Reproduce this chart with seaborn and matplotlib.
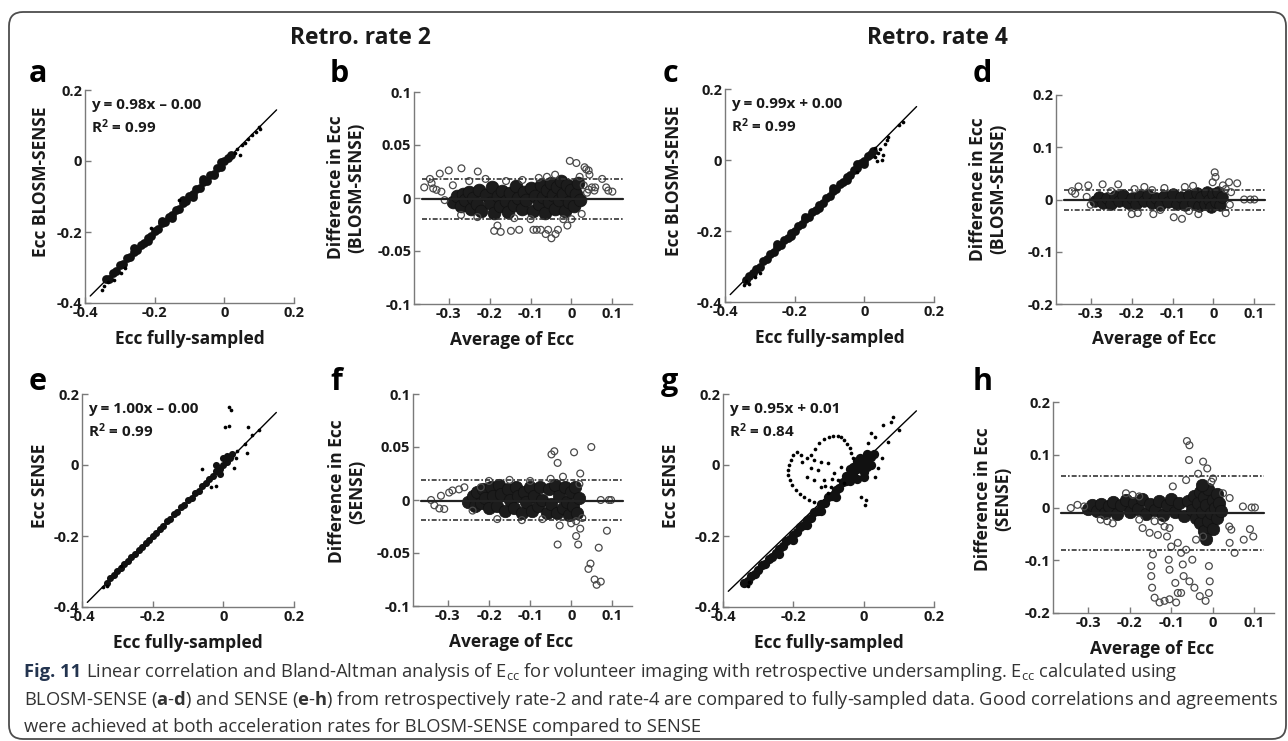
import matplotlib
matplotlib.use("Agg")
import matplotlib.pyplot as plt
import matplotlib.transforms as mtransforms
from matplotlib import font_manager
from matplotlib.patches import FancyBboxPatch
import seaborn as sns
import pandas as pd

# ---------------- values ----------------
# correlation panels: dense band points and loose points (x = fully-sampled, y = undersampled)
a_dense = [(-0.34, -0.333), (-0.33, -0.331), (-0.32, -0.315), (-0.31, -0.309), (-0.30, -0.294),
           (-0.29, -0.290), (-0.28, -0.274), (-0.27, -0.270), (-0.26, -0.255), (-0.25, -0.251),
           (-0.24, -0.236), (-0.23, -0.231), (-0.22, -0.216), (-0.21, -0.212), (-0.20, -0.196),
           (-0.19, -0.192), (-0.18, -0.176), (-0.17, -0.173), (-0.16, -0.157), (-0.15, -0.153),
           (-0.14, -0.137), (-0.13, -0.134), (-0.12, -0.118), (-0.11, -0.114), (-0.10, -0.098),
           (-0.09, -0.094), (-0.08, -0.078), (-0.07, -0.075), (-0.06, -0.059), (-0.05, -0.055),
           (-0.04, -0.039), (-0.03, -0.036), (-0.02, -0.020), (-0.01, -0.016), (0.00, -0.001),
           (0.01, 0.009), (0.02, 0.018), (-0.26, -0.246), (-0.22, -0.225), (-0.18, -0.168),
           (-0.15, -0.160), (-0.12, -0.110), (-0.09, -0.100), (-0.06, -0.050), (-0.03, -0.040),
           (-0.01, -0.004)]
a_loose = [(-0.35, -0.362), (-0.345, -0.352), (-0.333, -0.342), (-0.318, -0.334), (-0.296, -0.316),
           (-0.285, -0.300), (0.03, 0.022), (0.035, 0.033), (0.045, 0.018), (0.05, 0.045),
           (0.06, 0.052), (0.068, 0.062), (0.08, 0.074), (0.09, 0.082), (0.10, 0.096),
           (0.103, 0.09), (-0.13, -0.11), (-0.21, -0.19)]

c_dense = [(-0.34, -0.338), (-0.33, -0.326), (-0.32, -0.318), (-0.31, -0.306), (-0.30, -0.300),
           (-0.29, -0.285), (-0.28, -0.279), (-0.27, -0.265), (-0.26, -0.259), (-0.25, -0.246),
           (-0.24, -0.240), (-0.23, -0.225), (-0.22, -0.220), (-0.21, -0.206), (-0.20, -0.201),
           (-0.19, -0.186), (-0.18, -0.181), (-0.17, -0.166), (-0.16, -0.161), (-0.15, -0.146),
           (-0.14, -0.141), (-0.13, -0.127), (-0.12, -0.121), (-0.11, -0.107), (-0.10, -0.101),
           (-0.09, -0.087), (-0.08, -0.082), (-0.07, -0.067), (-0.06, -0.062), (-0.05, -0.047),
           (-0.04, -0.042), (-0.03, -0.027), (-0.02, -0.022), (-0.01, -0.008), (0.00, -0.002),
           (0.01, 0.012), (0.02, 0.018), (0.025, 0.026), (-0.25, -0.238), (-0.21, -0.215),
           (-0.17, -0.160), (-0.13, -0.136), (-0.09, -0.080), (-0.05, -0.056), (-0.02, -0.012),
           (0.00, -0.010)]
c_loose = [(-0.345, -0.352), (-0.34, -0.34), (-0.332, -0.348), (-0.315, -0.33), (-0.30, -0.318),
           (0.03, 0.008), (0.035, -0.004), (0.04, 0.02), (0.045, 0.03), (0.05, 0.0),
           (0.055, 0.015), (0.06, 0.045), (0.065, 0.055), (0.068, 0.064), (0.10, 0.10),
           (0.11, 0.106), (0.03, 0.035), (-0.02, -0.035)]

e_dense = [(-0.33, -0.331), (-0.32, -0.318), (-0.31, -0.311), (-0.30, -0.299), (-0.29, -0.291),
           (-0.28, -0.279), (-0.27, -0.271), (-0.26, -0.259), (-0.25, -0.252), (-0.24, -0.239),
           (-0.23, -0.232), (-0.22, -0.219), (-0.21, -0.212), (-0.20, -0.199), (-0.19, -0.191),
           (-0.18, -0.179), (-0.17, -0.172), (-0.16, -0.159), (-0.15, -0.152), (-0.14, -0.139),
           (-0.13, -0.131), (-0.12, -0.119), (-0.11, -0.112), (-0.10, -0.099), (-0.09, -0.092),
           (-0.08, -0.079), (-0.07, -0.072), (-0.06, -0.059), (-0.05, -0.051), (-0.04, -0.039),
           (-0.03, -0.031), (-0.02, -0.018), (-0.01, -0.011), (0.00, 0.001), (0.01, 0.008),
           (0.02, 0.021), (0.025, 0.03), (0.00, 0.02), (0.01, 0.025), (-0.02, 0.0),
           (-0.01, -0.025)]
e_loose = [(0.015, 0.163), (0.022, 0.155), (0.005, 0.107), (0.015, 0.11), (0.07, 0.107),
           (0.068, 0.034), (0.03, -0.008), (-0.035, -0.062), (-0.02, -0.06), (0.06, 0.06),
           (0.10, 0.10), (0.08, 0.085), (0.04, 0.04), (0.035, 0.02), (-0.06, -0.01),
           (-0.33, -0.34), (-0.34, -0.345), (-0.29, -0.285)]

g_dense = [(-0.34, -0.333), (-0.33, -0.326), (-0.32, -0.312), (-0.31, -0.307), (-0.30, -0.296),
           (-0.29, -0.283), (-0.28, -0.279), (-0.27, -0.264), (-0.26, -0.258), (-0.25, -0.247),
           (-0.24, -0.236), (-0.23, -0.228), (-0.22, -0.214), (-0.21, -0.209), (-0.20, -0.196),
           (-0.19, -0.190), (-0.18, -0.175), (-0.17, -0.170), (-0.16, -0.155), (-0.15, -0.150),
           (-0.14, -0.132), (-0.13, -0.129), (-0.12, -0.111), (-0.11, -0.108), (-0.10, -0.091),
           (-0.09, -0.087), (-0.08, -0.070), (-0.07, -0.066), (-0.06, -0.049), (-0.05, -0.045),
           (-0.04, -0.028), (-0.03, -0.025), (-0.02, -0.010), (-0.01, -0.004), (0.00, 0.008),
           (0.01, 0.015), (0.02, 0.022), (-0.03, -0.005), (-0.02, 0.012), (-0.01, 0.02),
           (0.00, -0.02), (0.01, -0.005), (-0.04, -0.045), (-0.24, -0.250), (-0.20, -0.21),
           (-0.16, -0.17), (-0.12, -0.13), (-0.08, -0.09), (-0.05, -0.03), (0.02, 0.0),
           (0.03, 0.03), (-0.02, -0.04), (0.0, -0.035), (-0.04, -0.01), (0.01, 0.03)]
g_loose = [(-0.189, 0.038), (-0.200, 0.028), (-0.208, 0.014), (-0.213, 0.0), (-0.215, -0.014),
           (-0.214, -0.028), (-0.21, -0.042), (-0.203, -0.056), (-0.193, -0.07), (-0.182, -0.082),
           (-0.169, -0.091), (-0.155, -0.098), (-0.141, -0.103), (-0.15, 0.028), (-0.138, 0.045),
           (-0.126, 0.061), (-0.112, 0.072), (-0.098, 0.08), (-0.086, 0.083), (-0.074, 0.082),
           (-0.064, 0.078), (-0.055, 0.07), (-0.047, 0.058), (-0.04, 0.047), (-0.035, 0.033),
           (-0.031, 0.019), (-0.179, 0.028), (-0.16, 0.019), (-0.174, 0.009), (-0.141, 0.014),
           (-0.122, 0.009), (-0.102, 0.005), (-0.15, -0.009), (-0.131, -0.014), (-0.16, -0.033),
           (-0.141, -0.042), (-0.112, -0.042), (-0.122, -0.061), (-0.093, -0.061), (-0.083, -0.023),
           (-0.064, -0.005), (-0.074, -0.042), (-0.102, -0.08), (-0.055, -0.052), (0.003, -0.113),
           (0.008, -0.099), (-0.007, -0.089), (0.032, -0.033), (0.041, -0.009), (0.051, 0.019),
           (0.056, 0.113), (0.079, 0.122), (0.084, 0.134), (0.032, 0.08), (0.022, 0.089),
           (0.012, 0.061), (0.07, 0.066), (0.10, 0.10), (-0.33, -0.34), (-0.325, -0.33),
           (-0.11, -0.06), (-0.09, -0.04)]

# Bland-Altman panels: x = average, y = difference
b_dense = [(-0.29, -0.004), (-0.28, 0.002), (-0.27, -0.008), (-0.265, 0.004), (-0.26, -0.002),
           (-0.25, 0.006), (-0.245, -0.010), (-0.24, 0.0), (-0.23, -0.006), (-0.225, 0.008),
           (-0.22, -0.012), (-0.21, 0.003), (-0.20, -0.005), (-0.195, 0.010), (-0.19, -0.014),
           (-0.18, 0.002), (-0.175, -0.008), (-0.17, 0.007), (-0.16, -0.003), (-0.155, -0.013),
           (-0.15, 0.005), (-0.14, -0.007), (-0.135, 0.011), (-0.13, 0.0), (-0.12, -0.010),
           (-0.115, 0.006), (-0.11, -0.002), (-0.10, 0.009), (-0.095, -0.012), (-0.09, 0.002),
           (-0.08, -0.006), (-0.075, 0.012), (-0.07, 0.001), (-0.065, -0.014), (-0.06, 0.008),
           (-0.055, -0.004), (-0.05, 0.014), (-0.045, 0.003), (-0.04, -0.010), (-0.035, 0.010),
           (-0.03, -0.002), (-0.025, 0.016), (-0.02, 0.004), (-0.015, -0.012), (-0.01, 0.012),
           (-0.005, -0.004), (0.0, 0.008), (0.005, -0.008), (0.01, 0.004), (0.015, 0.014),
           (0.02, -0.002)]
b_open = [(-0.36, 0.01), (-0.346, 0.018), (-0.342, 0.014), (-0.338, 0.009), (-0.33, 0.0077),
          (-0.322, 0.023), (-0.318, 0.006), (-0.30, 0.026), (-0.269, 0.028), (-0.229, 0.025),
          (-0.31, -0.002), (-0.29, 0.012), (-0.27, -0.016), (-0.25, 0.016), (-0.23, -0.018),
          (-0.21, 0.018), (-0.189, -0.031), (-0.181, -0.026), (-0.173, -0.032), (-0.148, -0.031),
          (-0.128, -0.030), (-0.16, 0.016), (-0.14, -0.019), (-0.12, 0.017), (-0.10, -0.02),
          (-0.093, -0.03), (-0.085, -0.03), (-0.075, -0.03), (-0.063, -0.034), (-0.057, -0.03),
          (-0.049, -0.038), (-0.039, -0.034), (-0.033, -0.03), (-0.08, 0.019), (-0.06, 0.02),
          (-0.04, 0.022), (-0.02, -0.02), (-0.004, 0.035), (0.012, 0.033), (0.032, 0.029),
          (0.036, 0.027), (0.042, 0.026), (0.044, 0.022), (0.042, 0.008), (0.05, 0.01),
          (0.056, 0.007), (0.058, 0.01), (0.038, 0.005), (0.025, -0.015), (0.03, 0.012),
          (0.085, 0.01), (0.09, 0.007), (0.10, 0.006), (0.075, 0.018), (0.02, 0.02),
          (0.0, -0.02), (-0.01, -0.026)]

d_dense = [(-0.29, -0.003), (-0.28, 0.004), (-0.27, -0.006), (-0.26, 0.002), (-0.25, -0.008),
           (-0.24, 0.006), (-0.23, -0.002), (-0.22, 0.008), (-0.21, -0.006), (-0.20, 0.003),
           (-0.19, -0.009), (-0.18, 0.006), (-0.17, -0.003), (-0.16, 0.009), (-0.15, -0.007),
           (-0.14, 0.002), (-0.13, -0.010), (-0.12, 0.007), (-0.11, -0.004), (-0.10, 0.010),
           (-0.09, -0.008), (-0.08, 0.004), (-0.07, -0.011), (-0.06, 0.009), (-0.05, -0.006),
           (-0.04, 0.012), (-0.035, -0.012), (-0.03, 0.004), (-0.02, -0.008), (-0.015, 0.014),
           (-0.01, 0.0), (-0.005, -0.014), (0.0, 0.010), (0.005, -0.004), (0.01, 0.014),
           (0.015, -0.010), (0.02, 0.004)]
d_open = [(-0.346, 0.016), (-0.338, 0.011), (-0.33, 0.025), (-0.306, 0.027), (-0.271, 0.029),
          (-0.233, 0.029), (-0.193, 0.02), (-0.169, 0.024), (-0.20, -0.028), (-0.185, -0.026),
          (-0.147, -0.028), (-0.097, -0.034), (-0.077, -0.037), (-0.037, -0.028), (0.003, 0.052),
          (0.005, 0.043), (0.038, 0.033), (-0.002, 0.033), (0.058, 0.031), (0.023, 0.027),
          (0.03, -0.026), (0.075, 0.0), (0.09, 0.0), (0.10, 0.0), (0.043, 0.014),
          (-0.12, 0.022), (-0.07, 0.024), (-0.05, 0.026), (-0.13, -0.02), (-0.06, -0.022),
          (-0.31, 0.005), (-0.30, -0.01), (0.03, 0.02), (0.04, -0.01), (-0.25, 0.016),
          (-0.15, 0.018)]

f_dense = [(-0.25, -0.002), (-0.24, 0.004), (-0.235, -0.006), (-0.23, 0.008), (-0.22, -0.003),
           (-0.215, 0.010), (-0.21, 0.002), (-0.20, -0.008), (-0.195, 0.012), (-0.19, 0.004),
           (-0.18, -0.006), (-0.175, 0.014), (-0.17, 0.006), (-0.16, -0.010), (-0.155, 0.010),
           (-0.15, 0.0), (-0.14, -0.008), (-0.135, 0.012), (-0.13, 0.004), (-0.12, -0.012),
           (-0.115, 0.008), (-0.11, -0.002), (-0.10, 0.012), (-0.095, -0.010), (-0.09, 0.004),
           (-0.08, -0.006), (-0.075, 0.012), (-0.07, 0.0), (-0.06, -0.012), (-0.055, 0.010),
           (-0.05, -0.004), (-0.04, 0.014), (-0.035, -0.012), (-0.03, 0.004), (-0.02, -0.008),
           (-0.015, 0.012), (-0.01, -0.002), (-0.005, -0.014), (0.0, 0.008), (0.005, -0.006),
           (0.01, 0.012), (0.015, -0.012), (0.02, 0.002)]
f_open = [(-0.341, 0.0), (-0.333, -0.005), (-0.321, -0.008), (-0.309, -0.0085), (-0.317, 0.004),
          (-0.297, 0.007), (-0.289, 0.009), (-0.273, 0.010), (-0.26, 0.012), (-0.048, 0.043),
          (-0.041, 0.046), (-0.033, 0.035), (0.007, 0.045), (0.049, 0.05), (-0.028, -0.024),
          (-0.033, -0.042), (0.012, -0.034), (0.022, -0.027), (0.017, -0.042), (0.067, -0.045),
          (0.087, -0.029), (0.042, -0.065), (0.047, -0.06), (0.057, -0.075), (0.062, -0.08),
          (0.072, -0.077), (0.022, 0.025), (0.072, 0.0), (0.092, 0.0), (0.097, 0.0),
          (0.012, -0.02), (0.027, -0.017), (-0.20, 0.018), (-0.15, 0.019), (-0.10, 0.018),
          (-0.05, 0.02), (-0.18, -0.018), (-0.12, -0.019), (-0.07, -0.018), (-0.02, 0.022),
          (0.0, -0.022), (0.02, 0.015), (-0.24, -0.01), (-0.22, 0.012)]

h_dense = [(-0.30, -0.002), (-0.29, 0.004), (-0.28, -0.006), (-0.27, 0.006), (-0.26, -0.010),
           (-0.25, 0.002), (-0.24, 0.010), (-0.23, -0.012), (-0.22, 0.004), (-0.21, 0.014),
           (-0.20, -0.008), (-0.19, 0.008), (-0.18, -0.002), (-0.17, 0.016), (-0.16, -0.012),
           (-0.15, 0.006), (-0.14, -0.004), (-0.13, 0.012), (-0.12, -0.014), (-0.11, 0.004),
           (-0.10, 0.016), (-0.09, -0.008), (-0.08, 0.008), (-0.07, -0.016), (-0.06, 0.012),
           (-0.05, -0.004), (-0.045, 0.022), (-0.04, -0.020), (-0.035, 0.008), (-0.03, 0.030),
           (-0.03, -0.030), (-0.025, -0.008), (-0.02, 0.020), (-0.02, -0.045), (-0.015, 0.004),
           (-0.01, 0.035), (-0.01, -0.025), (-0.005, -0.010), (0.0, 0.015), (0.0, -0.040),
           (0.005, 0.0), (0.01, 0.025), (0.01, -0.020), (0.015, 0.008), (0.02, -0.006),
           (-0.025, 0.042), (-0.015, -0.060)]
h_open = [(-0.062, 0.126), (-0.056, 0.118), (-0.057, 0.09), (-0.023, 0.087), (-0.013, 0.074),
          (-0.035, 0.064), (-0.096, 0.04), (-0.064, 0.052), (-0.003, 0.049), (0.001, 0.055),
          (-0.144, -0.089), (-0.148, -0.111), (-0.148, -0.13), (-0.146, -0.152), (-0.14, -0.171),
          (-0.128, -0.18), (-0.116, -0.177), (-0.104, -0.174), (-0.088, -0.18), (-0.084, -0.162),
          (-0.09, -0.143), (-0.104, -0.118), (-0.106, -0.099), (-0.10, -0.074), (-0.084, -0.067),
          (-0.076, -0.086), (-0.072, -0.108), (-0.07, -0.13), (-0.076, -0.162), (-0.056, -0.14),
          (-0.044, -0.152), (-0.031, -0.168), (-0.017, -0.177), (-0.009, -0.162), (-0.007, -0.14),
          (-0.009, -0.111), (-0.049, -0.099), (-0.064, -0.08), (-0.04, -0.061), (-0.023, -0.055),
          (-0.116, -0.036), (-0.132, -0.052), (-0.152, -0.048), (-0.169, -0.039), (-0.177, -0.023),
          (-0.14, -0.026), (-0.124, -0.026), (-0.104, -0.039), (-0.11, -0.055), (0.025, 0.027),
          (0.041, 0.018), (0.04, -0.036), (0.045, -0.042), (0.041, -0.067), (0.053, -0.086),
          (0.073, 0.002), (0.094, 0.0), (0.102, 0.0), (0.09, -0.041), (0.098, -0.055),
          (0.075, -0.061), (-0.342, -0.001), (-0.326, 0.005), (-0.31, 0.002), (-0.27, -0.023),
          (-0.254, -0.026), (-0.241, -0.03), (-0.209, 0.027), (-0.193, 0.024), (-0.177, 0.021)]

# regression lines (slope, intercept) and their x extent
fit_a = (0.98, -0.003)
fit_c = (0.99, 0.002)
fit_e = (1.00, -0.002)
fit_g = (0.95, 0.01)
fit_x = [-0.385, 0.15]
eq_a = ["y = 0.98x \u2013 0.00", "R$^2$ = 0.99"]
eq_c = ["y = 0.99x + 0.00", "R$^2$ = 0.99"]
eq_e = ["y = 1.00x \u2013 0.00", "R$^2$ = 0.99"]
eq_g = ["y = 0.95x + 0.01", "R$^2$ = 0.84"]

# Bland-Altman lines: mean, upper limit, lower limit
ba_b = [-0.001, 0.018, -0.020]
ba_d = [0.0, 0.019, -0.021]
ba_f = [-0.001, 0.019, -0.019]
ba_h = [-0.010, 0.060, -0.080]
ba_x = [-0.365, 0.125]

corr_ticks = [-0.4, -0.2, 0, 0.2]
corr_labels = ["-0.4", "-0.2", "0", "0.2"]
ba_xticks = [-0.3, -0.2, -0.1, 0, 0.1]
ba_xlabels = ["-0.3", "-0.2", "-0.1", "0", "0.1"]
ba_yticks_small = [-0.1, -0.05, 0, 0.05, 0.1]
ba_ylabels_small = ["-0.1", "-0.05", "0", "0.05", "0.1"]
ba_yticks_big = [-0.2, -0.1, 0, 0.1, 0.2]
ba_ylabels_big = ["-0.2", "-0.1", "0", "0.1", "0.2"]

# ---------------- style ----------------
W, H = 1288, 741
sns.set_theme(style="ticks")
names = {f.name for f in font_manager.fontManager.ttflist}
tick_font = "Liberation Sans Narrow" if "Liberation Sans Narrow" in names else "Open Sans"
tick_size = 11.5 if tick_font == "Liberation Sans Narrow" else 10.5
plt.rcParams["font.family"] = ["Open Sans", "DejaVu Sans"]
plt.rcParams["mathtext.fontset"] = "custom"
plt.rcParams["mathtext.rm"] = "Open Sans"
plt.rcParams["mathtext.it"] = "Open Sans:italic"
plt.rcParams["mathtext.bf"] = "Open Sans:bold"
plt.rcParams["mathtext.default"] = "regular"

ink = "#1a1a1a"
axis_grey = "#7a7a7a"

fig = plt.figure(figsize=(W / 100, H / 100), dpi=100)


def box(x0, y0, x1, y1):
    return [x0 / W, 1 - y1 / H, (x1 - x0) / W, (y1 - y0) / H]


def style_axes(ax, xt, xl, yt, yl):
    sns.despine(ax=ax)
    for s in ("left", "bottom"):
        ax.spines[s].set_color(axis_grey)
        ax.spines[s].set_linewidth(1.0)
    ax.tick_params(direction="in", length=4, width=1, color=axis_grey,
                   labelcolor=ink, pad=2)
    ax.set_xticks(xt)
    ax.set_xticklabels(xl, fontfamily=tick_font, fontweight="bold", fontsize=tick_size)
    ax.set_yticks(yt)
    ax.set_yticklabels(yl, fontfamily=tick_font, fontweight="bold", fontsize=tick_size)
    ax.set_facecolor("none")


def corr_panel(rect, dense, loose, fit, eq, ylabel, ylx, dense_size=40):
    ax = fig.add_axes(box(*rect))
    d1 = pd.DataFrame(dense, columns=["x", "y"])
    d2 = pd.DataFrame(loose, columns=["x", "y"])
    xs = pd.Series(fit_x)
    ax.plot(xs, fit[0] * xs + fit[1], color="black", lw=1.0, zorder=1)
    sns.scatterplot(data=d1, x="x", y="y", ax=ax, s=dense_size, color="#111111",
                    linewidth=0, zorder=2)
    sns.scatterplot(data=d2, x="x", y="y", ax=ax, s=7, color="black",
                    linewidth=0, zorder=2)
    ax.set_xlim(-0.4, 0.2)
    ax.set_ylim(-0.4, 0.2)
    style_axes(ax, corr_ticks, corr_labels, corr_ticks, corr_labels)
    ax.set_xlabel("Ecc fully-sampled", fontsize=12.5, fontweight="bold", color=ink, va="center")
    ax.xaxis.set_label_coords(0.5, -36 / 213)
    ax.set_ylabel(ylabel, fontsize=12.5, fontweight="bold", color=ink, va="center")
    ax.yaxis.set_label_coords(ylx, 0.568)
    ax.text(0.03, 0.93, eq[0], transform=ax.transAxes, fontsize=11, fontweight="bold",
            color=ink, va="center")
    ax.text(0.03, 0.826, eq[1], transform=ax.transAxes, fontsize=11, fontweight="bold",
            color=ink, va="center")
    return ax


def ba_panel(rect, dense, opened, lines, yt, yl, ylim, ylabel, ylx, yly, dense_size=75):
    ax = fig.add_axes(box(*rect))
    d1 = pd.DataFrame(dense, columns=["x", "y"])
    d2 = pd.DataFrame(opened, columns=["x", "y"])
    sns.scatterplot(data=d1, x="x", y="y", ax=ax, s=dense_size, color="#1c1c1c",
                    edgecolor="#111111", linewidth=0.5, zorder=2)
    sns.scatterplot(data=d2, x="x", y="y", ax=ax, s=24, facecolor="none",
                    edgecolor="#4a4a4a", linewidth=0.9, zorder=2)
    ax.plot(ba_x, [lines[0], lines[0]], color="#222222", lw=1.6, zorder=3)
    for v in lines[1:]:
        ax.plot(ba_x, [v, v], color="#333333", lw=1.2,
                linestyle=(0, (3, 1.2, 1, 1.2)), zorder=3)
    ax.set_xlim(-0.385, 0.148)
    ax.set_ylim(*ylim)
    style_axes(ax, ba_xticks, ba_xlabels, yt, yl)
    ax.set_xlabel("Average of Ecc", fontsize=12.5, fontweight="bold", color=ink, va="center")
    ax.xaxis.set_label_coords(0.45, -36 / 212)
    ax.set_ylabel(ylabel, fontsize=12.5, fontweight="bold", color=ink, va="center",
                  multialignment="center", linespacing=1.15)
    ax.yaxis.set_label_coords(ylx, yly)
    return ax


corr_panel((85, 90, 294, 303), a_dense, a_loose, fit_a, eq_a, "Ecc BLOSM-SENSE", -0.21)
ba_panel((414, 92, 632, 304), b_dense, b_open, ba_b, ba_yticks_small, ba_ylabels_small,
         (-0.1, 0.1), "Difference in Ecc\n(BLOSM-SENSE)", -0.31, 0.55, dense_size=85)
corr_panel((725, 89, 934, 302), c_dense, c_loose, fit_c, eq_c, "Ecc BLOSM-SENSE", -0.245)
ba_panel((1056, 95, 1274, 304), d_dense, d_open, ba_d, ba_yticks_big, ba_ylabels_big,
         (-0.2, 0.2), "Difference in Ecc\n(BLOSM-SENSE)", -0.31, 0.55, dense_size=70)
corr_panel((82, 394, 294, 607), e_dense, e_loose, fit_e, eq_e, "Ecc SENSE", -0.2, dense_size=26)
ba_panel((413, 394, 632, 606), f_dense, f_open, ba_f, ba_yticks_small, ba_ylabels_small,
         (-0.1, 0.1), "Difference in Ecc\n(SENSE)", -0.30, 0.54, dense_size=80)
corr_panel((723, 394, 934, 607), g_dense, g_loose, fit_g, eq_g, "Ecc SENSE", -0.246, dense_size=45)
ba_panel((1053, 402, 1274, 613), h_dense, h_open, ba_h, ba_yticks_big, ba_ylabels_big,
         (-0.2, 0.2), "Difference in Ecc\n(SENSE)", -0.27, 0.54, dense_size=80)

# column titles and panel letters
fig.text(360 / W, 1 - 38 / H, "Retro. rate 2", fontsize=16.5, fontweight="bold",
         color=ink, ha="center", va="center")
fig.text(937 / W, 1 - 38 / H, "Retro. rate 4", fontsize=16.5, fontweight="bold",
         color=ink, ha="center", va="center")
letters = ["a", "b", "c", "d", "e", "f", "g", "h"]
letter_x = [29, 330, 663, 973, 29, 330, 661, 973]
letter_base = [82, 82, 82, 82, 390, 390, 390, 390]
for lt, lx, ly in zip(letters, letter_x, letter_base):
    fig.text(lx / W, 1 - ly / H, lt, fontsize=22, fontweight="bold", color="black",
             ha="left", va="baseline")

# caption
cap_color = "#333333"
cap1 = ("Linear correlation and Bland-Altman analysis of E$_{cc}$ for volunteer imaging with "
        "retrospective undersampling. E$_{cc}$ calculated using")
cap2 = ("BLOSM-SENSE ($\\mathbf{a}$-$\\mathbf{d}$) and SENSE ($\\mathbf{e}$-$\\mathbf{h}$) from "
        "retrospectively rate-2 and rate-4 are compared to fully-sampled data. Good correlations "
        "and agreements")
cap3 = "were achieved at both acceleration rates for BLOSM-SENSE compared to SENSE"
renderer = fig.canvas.get_renderer()
x_cap = 24 / W
t2 = fig.text(x_cap, 1 - 705 / H, cap2, fontsize=12, color=cap_color, va="baseline")
w2 = t2.get_window_extent(renderer).width
cap_size = 12 * (1250 / w2)
t2.set_fontsize(cap_size)
fig.text(x_cap, 1 - 732 / H, cap3, fontsize=cap_size, color=cap_color, va="baseline")
tf = fig.text(x_cap, 1 - 677 / H, "Fig. 11", fontsize=cap_size, fontweight="bold",
              color="#23344f", va="baseline")
bb = tf.get_window_extent(renderer)
fig.text((bb.x1 + 5) / W, 1 - 677 / H, cap1, fontsize=cap_size, color=cap_color, va="baseline")

# rounded frame around the whole figure
frame = FancyBboxPatch((9, H - 739), 1277, 727, boxstyle="round,pad=0,rounding_size=14",
                       transform=mtransforms.IdentityTransform(), fill=False,
                       edgecolor="#4d4d4d", linewidth=1.3)
fig.add_artist(frame)

fig.savefig("out.png", dpi=100)
